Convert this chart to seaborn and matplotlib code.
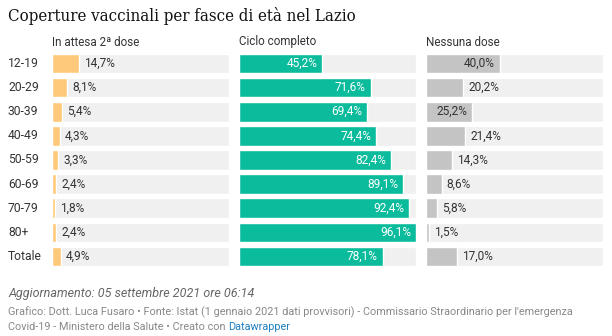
import matplotlib
matplotlib.use("Agg")
import matplotlib.pyplot as plt
from matplotlib import font_manager
import seaborn as sns
import pandas as pd

categories = ["12-19", "20-29", "30-39", "40-49", "50-59", "60-69", "70-79", "80+", "Totale"]
attesa = [14.7, 8.1, 5.4, 4.3, 3.3, 2.4, 1.8, 2.4, 4.9]
completo = [45.2, 71.6, 69.4, 74.4, 82.4, 89.1, 92.4, 96.1, 78.1]
nessuna = [40.0, 20.2, 25.2, 21.4, 14.3, 8.6, 5.8, 1.5, 17.0]
headers = ["In attesa 2ª dose", "Ciclo completo", "Nessuna dose"]
colors = ["#fec97a", "#0abb9c", "#c4c4c4"]
inside_text = ["#333333", "#ffffff", "#333333"]

title = "Coperture vaccinali per fasce di età nel Lazio"
updated = "Aggiornamento: 05 settembre 2021 ore 06:14"
credit1 = "Grafico: Dott. Luca Fusaro • Fonte: Istat (1 gennaio 2021 dati provvisori) - Commissario Straordinario per l'emergenza"
credit2 = "Covid-19 - Ministero della Salute • Creato con "
credit_link = "Datawrapper"

sns.set_theme(style="white")
plt.rcParams["font.family"] = ["Roboto", "DejaVu Sans"]

W, H = 612, 336
fig = plt.figure(figsize=(W / 100, H / 100), dpi=100)
fig.patch.set_facecolor("white")

series = [attesa, completo, nessuna]
vmax = max(max(s) for s in series)
panel_x = [52, 239, 426]
panel_w = 177
top_px, bot_px = 51.4, 268.6

def fx(px):
    return px / W

def fy(py):
    return 1 - py / H

for i, vals in enumerate(series):
    ax = fig.add_axes([fx(panel_x[i]), fy(bot_px), panel_w / W, (bot_px - top_px) / H])
    df = pd.DataFrame({"cat": categories, "val": vals, "bg": [vmax] * len(vals)})
    sns.barplot(data=df, y="cat", x="bg", color="#f0f0f0", width=0.81, ax=ax,
                saturation=1, orient="h")
    sns.barplot(data=df, y="cat", x="val", color=colors[i], width=0.81, ax=ax,
                saturation=1, orient="h")
    ax.set_xlim(0, vmax)
    ax.set_ylim(len(categories) - 0.5, -0.5)
    ax.axis("off")
    px_per_unit = panel_w / vmax
    for j, v in enumerate(vals):
        lab = f"{v:.1f}%".replace(".", ",")
        if v * px_per_unit > 42:
            ax.text(v - 5 / px_per_unit, j, lab, ha="right", va="center",
                    color=inside_text[i], fontsize=8.6)
        else:
            ax.text(v + 5 / px_per_unit, j, lab, ha="left", va="center",
                    color="#333333", fontsize=8.6)
    fig.text(fx(panel_x[i]), fy(42), headers[i], ha="left", va="center",
             fontsize=8.4, color="#333333")

for j, c in enumerate(categories):
    yc = 63.5 + j * 24.12
    fig.text(fx(8), fy(yc), c, ha="left", va="center", fontsize=8.7, color="#333333")

# title font: condensed serif if available
fp = font_manager.FontProperties(family="DejaVu Serif", stretch="condensed")
path = font_manager.findfont(fp, fallback_to_default=False)
if "Condensed" in path:
    tfont = dict(fontproperties=font_manager.FontProperties(fname=path, size=13.5))
else:
    tfont = dict(fontproperties=font_manager.FontProperties(family="Liberation Serif", size=15))
tt = fig.text(fx(8), fy(16), title, ha="left", va="center", color="#111111", **tfont)
fig.canvas.draw()
r = fig.canvas.get_renderer()
tw = tt.get_window_extent(renderer=r).width
if abs(tw - 349) > 6:
    tt.set_fontsize(tt.get_fontsize() * 349 / tw)

fig.text(fx(8), fy(293), updated, ha="left", va="center", fontsize=9.0,
         style="italic", color="#666666")
fig.text(fx(8), fy(312), credit1, ha="left", va="center", fontsize=7.8, color="#888888")
t2 = fig.text(fx(8), fy(327), credit2, ha="left", va="center", fontsize=7.8, color="#888888")
fig.canvas.draw()
bb = t2.get_window_extent(renderer=fig.canvas.get_renderer())
fig.text(bb.x1 / W, fy(327), credit_link, ha="left", va="center", fontsize=7.8,
         color="#1f7fc0")

fig.savefig("out.png", dpi=100, facecolor="white")
